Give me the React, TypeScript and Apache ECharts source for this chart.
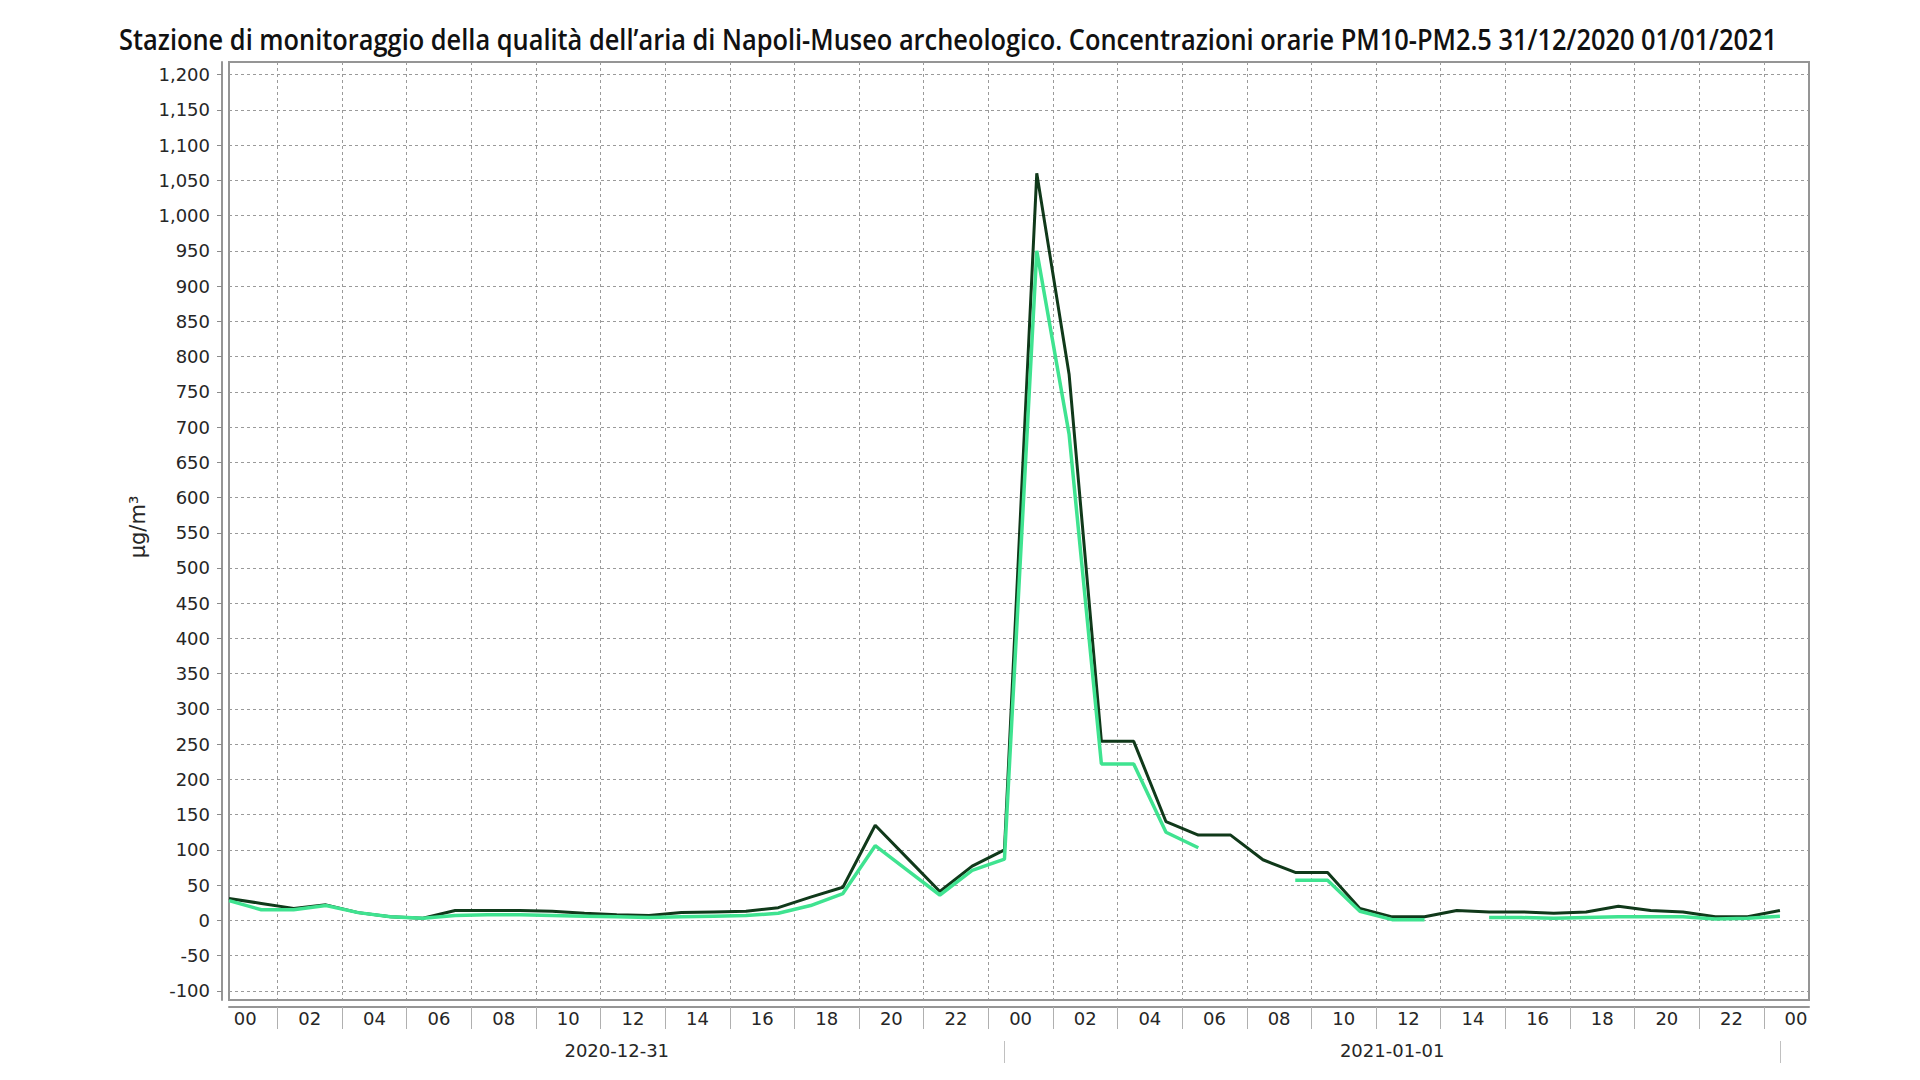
import React, { useEffect, useRef } from "react";
import * as echarts from "echarts";

const TITLE =
  "Stazione di monitoraggio della qualità dell’aria di Napoli-Museo archeologico. Concentrazioni orarie PM10-PM2.5 31/12/2020 01/01/2021";
const Y_NAME = "μg/m³";

// hours since 2020-12-31 00:00
const hours = [
  0, 1, 2, 3, 4, 5, 6, 7, 8, 9, 10, 11, 12, 13, 14, 15, 16, 17, 18, 19, 20, 21, 22, 23,
  24, 25, 26, 27, 28, 29, 30, 31, 32, 33, 34, 35, 36, 37, 38, 39, 40, 41, 42, 43, 44, 45, 46, 47, 48,
];

const pm10 = [
  31, 24, 17, 22, 11, 5, 3, 14, 14, 14, 13, 10, 8, 7, 11, 12, 13, 18, 33, 47, 135, 88, 41, 77,
  100, 1060, 775, 254, 254, 140, 121, 121, 86, 68, 68, 17, 5, 5, 14, 12, 12, 10, 12, 20, 14, 12, 5, 5, 14,
];

const pm25: (number | null)[] = [
  28, 15, 15, 21, 11, 5, 3, 7, 8, 8, 7, 6, 5, 4, 5, 6, 7, 10, 21, 38, 106, 71, 36, 71,
  87, 950, 690, 222, 222, 125, 103, null, null, 57, 57, 13, 1, 1, null, 4, 4, 3, 4, 5, 5, 5, 2, 3, 6,
];

const hourTickLabels = [
  "00", "02", "04", "06", "08", "10", "12", "14", "16", "18", "20", "22",
  "00", "02", "04", "06", "08", "10", "12", "14", "16", "18", "20", "22", "00",
];
const dayLabels = ["2020-12-31", "2021-01-01"];
const dayStarts = [0, 24, 48];

const yTicks = [
  -100, -50, 0, 50, 100, 150, 200, 250, 300, 350, 400, 450, 500, 550, 600, 650, 700, 750, 800,
  850, 900, 950, 1000, 1050, 1100, 1150, 1200,
];

const X_MIN = 0;
const X_MAX = 48.9;
const Y_MIN = -113;
const Y_MAX = 1218;

export default function App() {
  const ref = useRef<HTMLDivElement>(null);

  useEffect(() => {
    if (!ref.current) return;
    const chart = echarts.init(ref.current, undefined, { renderer: "svg" });

    // title compression to match the condensed title width
    const titleFont = '600 29px "Open Sans"';
    let titleScale = 0.82;
    try {
      const ctx = document.createElement("canvas").getContext("2d");
      if (ctx) {
        ctx.font = titleFont;
        const w = ctx.measureText(TITLE).width;
        if (w > 0) titleScale = 1659 / w;
      }
    } catch (e) {}

    // hour labels sit in the middle of each labelled hour, separators between
    const labelPos = hourTickLabels.map((_, i) => i * 2 + 0.5);
    const sepPos = hourTickLabels.slice(0, 24).map((_, i) => i * 2 + 1.5);
    const dayLabelPos = dayLabels.map((_, i) => (dayStarts[i] + dayStarts[i + 1]) / 2);

    const toPairs = (vals: (number | null)[]) =>
      hours.map((h, i) => [h, vals[i] === null ? "-" : vals[i]]);

    const gridLine = { show: true, lineStyle: { color: "#9a9a9a", type: [3, 3], width: 1 } };
    const labelFont = { fontFamily: "DejaVu Sans", fontSize: 18, color: "#262626" };

    const option: any = {
      animation: false,
      backgroundColor: "#ffffff",
      grid: {
        left: 229,
        right: 111,
        top: 62,
        bottom: 80,
        show: true,
        borderColor: "#959595",
        borderWidth: 2,
        backgroundColor: "transparent",
      },
      xAxis: [
        {
          type: "value",
          min: X_MIN,
          max: X_MAX,
          position: "bottom",
          offset: 7,
          axisLine: { show: true, onZero: false, lineStyle: { color: "#959595", width: 2 } },
          axisTick: {
            show: true,
            customValues: sepPos,
            length: 22,
            lineStyle: { color: "#b0b0b0", width: 1 },
          },
          axisLabel: {
            customValues: labelPos,
            formatter: (v: number) => hourTickLabels[Math.round((v - 0.5) / 2)] ?? "",
            margin: 2,
            ...labelFont,
          },
          splitLine: gridLine,
        },
        {
          type: "value",
          min: X_MIN,
          max: X_MAX,
          position: "bottom",
          offset: 41,
          axisLine: { show: false, onZero: false },
          axisTick: {
            show: true,
            customValues: dayStarts.slice(1),
            length: 22,
            lineStyle: { color: "#c0c0c0", width: 1 },
          },
          axisLabel: {
            customValues: dayLabelPos,
            formatter: (v: number) => dayLabels[dayLabelPos.indexOf(v)] ?? "",
            margin: 0,
            ...labelFont,
          },
          splitLine: { show: false },
        },
      ],
      yAxis: {
        type: "value",
        min: Y_MIN,
        max: Y_MAX,
        offset: 7,
        axisLine: { show: true, onZero: false, lineStyle: { color: "#959595", width: 2 } },
        axisTick: { show: true, customValues: yTicks, length: 5, lineStyle: { color: "#8a8a8a" } },
        axisLabel: {
          customValues: yTicks,
          formatter: (v: number) => v.toLocaleString("en-US"),
          margin: 12,
          ...labelFont,
        },
        splitLine: gridLine,
      },
      series: [
        {
          name: "PM10",
          type: "line",
          xAxisIndex: 0,
          data: toPairs(pm10),
          symbol: "none",
          connectNulls: false,
          lineStyle: { color: "#10391a", width: 3 },
          z: 3,
        },
        {
          name: "PM2.5",
          type: "line",
          xAxisIndex: 0,
          data: toPairs(pm25),
          symbol: "none",
          connectNulls: false,
          lineStyle: { color: "#3fe390", width: 3.5 },
          z: 4,
        },
      ],
      graphic: [
        {
          type: "text",
          x: 119,
          y: 39,
          scaleX: titleScale,
          style: {
            text: TITLE,
            font: titleFont,
            fill: "#111111",
            textAlign: "left",
            textVerticalAlign: "middle",
            align: "left",
            verticalAlign: "middle",
          },
        },
        {
          type: "text",
          x: 138,
          y: 527,
          rotation: Math.PI / 2,
          style: {
            text: Y_NAME,
            font: '21px "DejaVu Sans"',
            fill: "#262626",
            textAlign: "center",
            textVerticalAlign: "middle",
            align: "center",
            verticalAlign: "middle",
          },
        },
      ],
    };

    chart.setOption(option);
    return () => chart.dispose();
  }, []);

  return (
    <div
      ref={ref}
      style={{
        position: "fixed",
        left: 0,
        top: 0,
        width: "1920px",
        height: "1080px",
        background: "#ffffff",
      }}
    />
  );
}
